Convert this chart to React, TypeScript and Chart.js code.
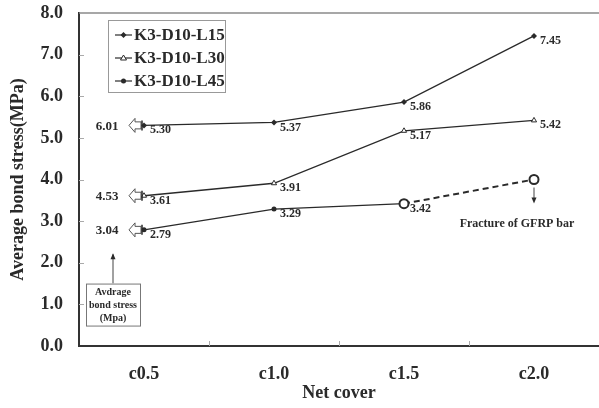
import { useEffect, useRef } from "react";
import { Chart, registerables } from "chart.js";
Chart.register(...registerables);

const categories = ["c0.5", "c1.0", "c1.5", "c2.0"];
const seriesNames = ["K3-D10-L15", "K3-D10-L30", "K3-D10-L45"];
const l15 = [5.3, 5.37, 5.86, 7.45];
const l30 = [3.61, 3.91, 5.17, 5.42];
const l45 = [2.79, 3.29, 3.42, 4.0];
const ultimateAtC05 = [6.01, 4.53, 3.04];
const yMin = 0;
const yMax = 8;
const yStep = 1;
const fractureIndex = 3;
const boxLines = ["Avdrage", "bond stress", "(Mpa)"];
const fractureLabel = "Fracture of GFRP bar";
const xTitle = "Net cover";
const yTitle = "Average bond stress(MPa)";

const SERIF = "'Liberation Serif', 'Times New Roman', serif";
const INK = "#2a2a2a";

function drawMarker(ctx: CanvasRenderingContext2D, style: string, x: number, y: number) {
  ctx.save();
  ctx.strokeStyle = INK;
  ctx.fillStyle = INK;
  ctx.lineWidth = 1;
  if (style === "rectRot") {
    ctx.beginPath();
    ctx.moveTo(x, y - 3);
    ctx.lineTo(x + 3, y);
    ctx.lineTo(x, y + 3);
    ctx.lineTo(x - 3, y);
    ctx.closePath();
    ctx.fill();
  } else if (style === "triangle") {
    ctx.fillStyle = "#fff";
    ctx.beginPath();
    ctx.moveTo(x, y - 3);
    ctx.lineTo(x + 3, y + 2);
    ctx.lineTo(x - 3, y + 2);
    ctx.closePath();
    ctx.fill();
    ctx.stroke();
  } else {
    ctx.beginPath();
    ctx.arc(x, y, 2.5, 0, Math.PI * 2);
    ctx.fill();
  }
  ctx.restore();
}

const markerStyles = ["rectRot", "triangle", "circle"];

const overlayPlugin = {
  id: "overlay",
  afterDraw(chart: any) {
    const ctx: CanvasRenderingContext2D = chart.ctx;
    const area = chart.chartArea;
    const xs = chart.scales.x;
    const ys = chart.scales.y;
    ctx.save();

    // top border
    ctx.strokeStyle = "#8a8a8a";
    ctx.lineWidth = 1.5;
    ctx.beginPath();
    ctx.moveTo(area.left, area.top);
    ctx.lineTo(area.right, area.top);
    ctx.stroke();

    // inside y ticks
    ctx.strokeStyle = "#aaa";
    ctx.lineWidth = 1;
    for (let v = yMin + yStep; v < yMax; v += yStep) {
      const py = Math.round(ys.getPixelForValue(v)) + 0.5;
      ctx.beginPath();
      ctx.moveTo(area.left, py);
      ctx.lineTo(area.left + 5, py);
      ctx.stroke();
    }
    // x ticks between categories
    for (let i = 1; i < categories.length; i++) {
      const px = Math.round((xs.getPixelForValue(i - 1) + xs.getPixelForValue(i)) / 2) + 0.5;
      ctx.beginPath();
      ctx.moveTo(px, area.bottom);
      ctx.lineTo(px, area.bottom - 5);
      ctx.stroke();
    }

    // data labels
    ctx.fillStyle = INK;
    ctx.font = `bold 12px ${SERIF}`;
    ctx.textAlign = "left";
    ctx.textBaseline = "middle";
    chart.data.datasets.forEach((ds: any, di: number) => {
      const meta = chart.getDatasetMeta(di);
      ds.data.forEach((v: number, i: number) => {
        if (di === 2 && i === fractureIndex) return;
        const pt = meta.data[i];
        ctx.fillText(v.toFixed(2), pt.x + 6, pt.y + 5);
      });
    });

    // ultimate values with hollow arrows at c0.5
    ultimateAtC05.forEach((u, di) => {
      const pt = chart.getDatasetMeta(di).data[0];
      const x = pt.x;
      const y = pt.y;
      ctx.fillStyle = INK;
      ctx.font = `bold 13px ${SERIF}`;
      ctx.textAlign = "center";
      ctx.fillText(u.toFixed(2), x - 37, y + 1);
      ctx.strokeStyle = "#555";
      ctx.lineWidth = 1;
      ctx.fillStyle = "#fff";
      ctx.beginPath();
      ctx.moveTo(x - 15, y);
      ctx.lineTo(x - 9, y - 7);
      ctx.lineTo(x - 9, y - 3.5);
      ctx.lineTo(x - 3, y - 3.5);
      ctx.lineTo(x - 3, y + 3.5);
      ctx.lineTo(x - 9, y + 3.5);
      ctx.lineTo(x - 9, y + 7);
      ctx.closePath();
      ctx.fill();
      ctx.stroke();
      ctx.strokeStyle = INK;
      ctx.lineWidth = 1.5;
      ctx.beginPath();
      ctx.moveTo(x - 2, y - 5);
      ctx.lineTo(x - 2, y + 5);
      ctx.stroke();
    });

    // annotation box
    const bx = area.left + 7;
    const bw = 54;
    const by = ys.getPixelForValue(1.5);
    const bh = 42;
    const ax = bx + bw / 2;
    ctx.strokeStyle = "#444";
    ctx.lineWidth = 1;
    ctx.beginPath();
    ctx.moveTo(ax, by);
    ctx.lineTo(ax, ys.getPixelForValue(2.2));
    ctx.stroke();
    ctx.fillStyle = INK;
    ctx.beginPath();
    const tipY = ys.getPixelForValue(2.23);
    ctx.moveTo(ax, tipY);
    ctx.lineTo(ax - 2.5, tipY + 6);
    ctx.lineTo(ax + 2.5, tipY + 6);
    ctx.closePath();
    ctx.fill();
    ctx.fillStyle = "#fff";
    ctx.fillRect(bx, by, bw, bh);
    ctx.strokeStyle = "#777";
    ctx.strokeRect(bx + 0.5, by + 0.5, bw, bh);
    ctx.fillStyle = INK;
    ctx.font = `bold 10px ${SERIF}`;
    ctx.textAlign = "center";
    boxLines.forEach((t, i) => ctx.fillText(t, ax, by + 9 + i * 13));

    // fracture annotation
    const fp = chart.getDatasetMeta(2).data[fractureIndex];
    ctx.strokeStyle = "#444";
    ctx.lineWidth = 1;
    ctx.beginPath();
    ctx.moveTo(fp.x, fp.y + 8);
    ctx.lineTo(fp.x, fp.y + 20);
    ctx.stroke();
    ctx.fillStyle = INK;
    ctx.beginPath();
    ctx.moveTo(fp.x, fp.y + 24);
    ctx.lineTo(fp.x - 2.5, fp.y + 18);
    ctx.lineTo(fp.x + 2.5, fp.y + 18);
    ctx.closePath();
    ctx.fill();
    ctx.font = `bold 12px ${SERIF}`;
    ctx.fillText(fractureLabel, fp.x - 17, fp.y + 44);

    // legend
    const lx = area.left + 29;
    const ly = area.top + 7;
    const lw = 117;
    const lh = 72;
    ctx.fillStyle = "#fff";
    ctx.fillRect(lx, ly, lw, lh);
    ctx.strokeStyle = "#999";
    ctx.lineWidth = 1;
    ctx.strokeRect(lx + 0.5, ly + 0.5, lw, lh);
    ctx.font = `bold 17px ${SERIF}`;
    ctx.textAlign = "left";
    ctx.textBaseline = "middle";
    seriesNames.forEach((n, i) => {
      const cy = ly + 15 + i * 23;
      ctx.strokeStyle = INK;
      ctx.lineWidth = 1.2;
      ctx.beginPath();
      ctx.moveTo(lx + 7, cy);
      ctx.lineTo(lx + 24, cy);
      ctx.stroke();
      drawMarker(ctx, markerStyles[i], lx + 15.5, cy);
      ctx.fillStyle = INK;
      ctx.fillText(n, lx + 26, cy + 1);
    });

    ctx.restore();
  },
};

export default function App() {
  const ref = useRef<HTMLCanvasElement>(null);
  useEffect(() => {
    document.body.style.margin = "0";
    const canvas = ref.current!;
    const chart = new Chart(canvas, {
      type: "line",
      data: {
        labels: categories,
        datasets: [
          {
            label: seriesNames[0],
            data: l15,
            borderColor: INK,
            backgroundColor: INK,
            borderWidth: 1.3,
            pointStyle: "rectRot",
            pointRadius: 3,
            pointBorderWidth: 0,
          },
          {
            label: seriesNames[1],
            data: l30,
            borderColor: INK,
            backgroundColor: "#fff",
            borderWidth: 1.3,
            pointStyle: "triangle",
            pointRadius: 3,
            pointBorderWidth: 1,
          },
          {
            label: seriesNames[2],
            data: l45,
            borderColor: INK,
            borderWidth: 1.3,
            pointStyle: "circle",
            pointRadius: [2.5, 2.5, 4.5, 4.5],
            pointBackgroundColor: [INK, INK, "#fff", "#fff"],
            pointBorderColor: INK,
            pointBorderWidth: [0, 0, 2, 2],
            segment: {
              borderDash: (c: any) => (c.p1DataIndex === fractureIndex ? [6, 4] : undefined),
              borderWidth: (c: any) => (c.p1DataIndex === fractureIndex ? 2 : 1.3),
            },
          },
        ],
      },
      options: {
        responsive: false,
        animation: false,
        layout: { autoPadding: false, padding: { top: 13, right: 0, left: 0, bottom: 0 } },
        plugins: { legend: { display: false }, tooltip: { enabled: false } },
        scales: {
          x: {
            type: "category",
            offset: true,
            grid: {
              display: true,
              drawOnChartArea: false,
              drawTicks: true,
              tickLength: 18,
              tickColor: "rgba(0,0,0,0)",
            },
            border: { display: true, color: "#333", width: 2 },
            ticks: {
              color: INK,
              padding: 0,
              font: { family: SERIF, size: 18, weight: "bold" },
            },
            title: {
              display: true,
              text: xTitle,
              color: INK,
              padding: { top: 0, bottom: 4 },
              font: { family: SERIF, size: 18, weight: "bold" },
            },
            afterFit: (s: any) => {
              s.height = 62;
              s.paddingLeft = 0;
              s.paddingRight = 0;
            },
          },
          y: {
            min: yMin,
            max: yMax,
            grid: {
              display: true,
              drawOnChartArea: false,
              drawTicks: true,
              tickLength: 16,
              tickColor: "rgba(0,0,0,0)",
            },
            border: { display: true, color: "#333", width: 2 },
            ticks: {
              stepSize: yStep,
              color: INK,
              padding: 0,
              callback: (v: any) => Number(v).toFixed(1),
              font: { family: SERIF, size: 18, weight: "bold" },
            },
            title: {
              display: true,
              text: yTitle,
              color: INK,
              padding: { top: 8, bottom: 0 },
              font: { family: SERIF, size: 18, weight: "bold" },
            },
            afterFit: (s: any) => {
              s.width = 79;
            },
          },
        },
      },
      plugins: [overlayPlugin],
    } as any);
    return () => chart.destroy();
  }, []);
  return (
    <div style={{ width: 599, height: 408 }}>
      <canvas ref={ref} width={599} height={408} style={{ display: "block" }} />
    </div>
  );
}
